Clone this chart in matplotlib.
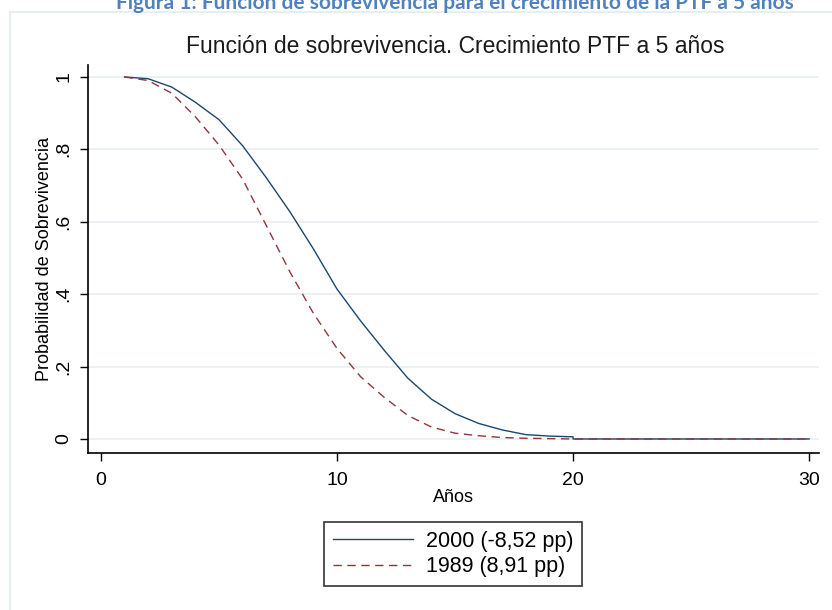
import matplotlib.pyplot as plt
from matplotlib.patches import Rectangle

plt.rcParams['font.family'] = ['Liberation Sans', 'DejaVu Sans']

# survival curves
years_2000 = [1, 2, 3, 4, 5, 6, 7, 8, 9, 10, 11, 12, 13, 14, 15, 16, 17, 18, 19, 20, 20, 25, 30]
surv_2000 = [1.0, 0.995, 0.972, 0.93, 0.882, 0.81, 0.722, 0.628, 0.525, 0.414, 0.326, 0.245,
             0.168, 0.11, 0.07, 0.043, 0.025, 0.012, 0.008, 0.006, 0.0, 0.0, 0.0]

years_1989 = [1, 2, 3, 4, 5, 6, 7, 8, 9, 10, 11, 12, 13, 14, 15, 16, 17, 18, 19, 20, 25, 30]
surv_1989 = [1.0, 0.99, 0.955, 0.89, 0.812, 0.718, 0.59, 0.462, 0.347, 0.25, 0.172, 0.115,
             0.065, 0.033, 0.016, 0.009, 0.004, 0.002, 0.001, 0.0, 0.0, 0.0]

x_ticks = [0, 10, 20, 30]
y_ticks = [0, 0.2, 0.4, 0.6, 0.8, 1.0]
y_tick_labels = ['0', '.2', '.4', '.6', '.8', '1']

label_2000 = '2000 (-8,52 pp)'
label_1989 = '1989 (8,91 pp)'

W, H = 832, 610
fig = plt.figure(figsize=(W / 100, H / 100), dpi=100)

# light frame of the graph region
fig.patches.append(Rectangle((10 / W, -0.1), 1.2, 1 - 12 / H + 0.1, transform=fig.transFigure,
                             fill=False, edgecolor='#e6eef0', linewidth=1.5))

# caption above the graph (cut off in the original)
fig.text(455 / W, 1 - 9 / H, 'Figura 1: Función de sobrevivencia para el crecimiento de la PTF a 5 años',
         ha='center', va='baseline', fontsize=15, fontweight='bold', color='#4f81bd',
         family=['Lato', 'DejaVu Sans'])

ax = fig.add_axes([88 / W, 1 - 453 / H, (819 - 88) / W, (453 - 65) / H])

ax.plot(years_2000, surv_2000, color='#1a476f', linewidth=1.0, label=label_2000)
ax.plot(years_1989, surv_1989, color='#90353b', linewidth=1.0, dashes=(6, 4), label=label_1989)

ax.set_xlim(-0.55, 30.42)
ax.set_ylim(-0.0387, 1.033)

ax.set_xticks(x_ticks)
ax.set_yticks(y_ticks)
ax.set_yticklabels(y_tick_labels, rotation=90, va='center')
ax.tick_params(axis='both', labelsize=14, width=1.0, length=6, color='black')
ax.tick_params(axis='y', pad=5)
ax.tick_params(axis='x', pad=8)

ax.yaxis.grid(True, color='#eaf2f3', linewidth=1.5)
ax.set_axisbelow(True)

for s in ['top', 'right']:
    ax.spines[s].set_visible(False)
for s in ['left', 'bottom']:
    ax.spines[s].set_linewidth(1.2)

ax.set_xlabel('Años', fontsize=13, labelpad=0)
ax.set_ylabel('Probabilidad de Sobrevivencia', fontsize=13, labelpad=2)

fig.text(455 / W, 1 - 53 / H, 'Función de sobrevivencia. Crecimiento PTF a 5 años',
         ha='center', va='baseline', fontsize=16.5, color='#1a1a1a')

leg = fig.legend(loc='center', bbox_to_anchor=(453 / W, 1 - 554 / H), fontsize=15.5,
                 handlelength=3.7, frameon=True, fancybox=False, edgecolor='black',
                 borderpad=0.4, labelspacing=0.22, handletextpad=0.6, borderaxespad=0)
leg.get_frame().set_linewidth(1.2)

fig.savefig('out.png', dpi=100)
